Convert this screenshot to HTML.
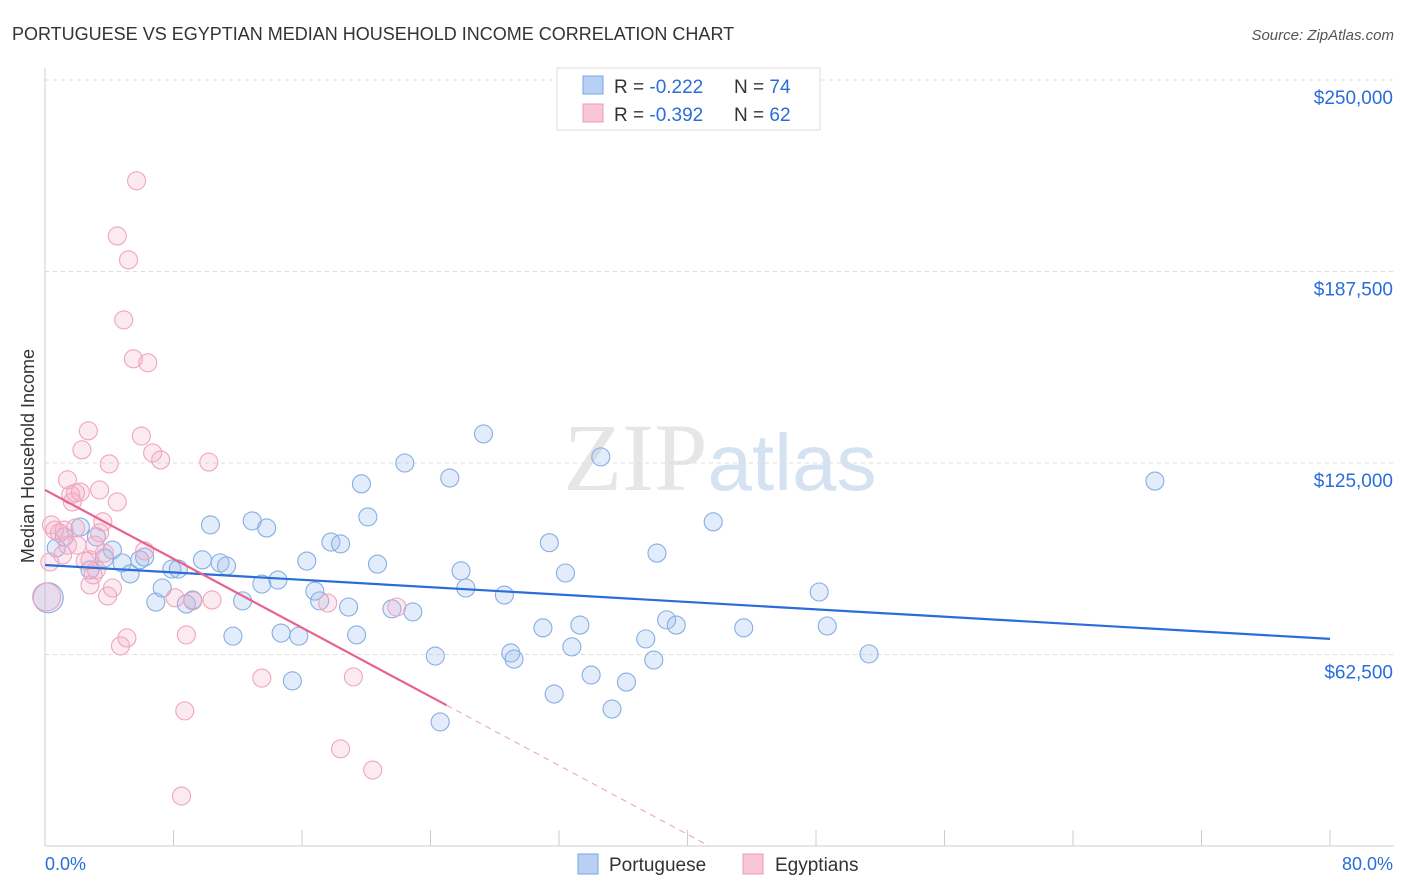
<!DOCTYPE html>
<html><head><meta charset="utf-8"><style>
body{margin:0;background:#fff;font-family:"Liberation Sans",sans-serif;}
svg{display:block}
</style></head><body>
<svg id="chart" width="1406" height="892" xmlns="http://www.w3.org/2000/svg">
<text x="12" y="40" font-size="18" fill="#333">PORTUGUESE VS EGYPTIAN MEDIAN HOUSEHOLD INCOME CORRELATION CHART</text>
<text x="1394" y="40" font-size="15" font-style="italic" fill="#555" text-anchor="end">Source: ZipAtlas.com</text>
<text x="720" y="490" font-size="96" text-anchor="middle" fill="#e6e6e6" font-family="Liberation Serif,serif">ZIP<tspan fill="#d5e2f2" font-family="Liberation Sans,sans-serif" font-size="80">atlas</tspan></text>
<text transform="translate(34,456) rotate(-90)" font-size="18" fill="#333" text-anchor="middle">Median Household Income</text>
<g id="grid"></g><g id="axes"></g><g id="marks"></g><g id="lines"></g>
<g>
<rect x="557" y="68" width="263" height="62" fill="#fff" stroke="#ddd"/>
<rect x="583" y="76" width="20" height="18" fill="#b8d0f3" stroke="#7aa6e0"/>
<text x="614" y="93" font-size="19" fill="#333">R = <tspan fill="#2a6dd9">-0.222</tspan></text>
<text x="734" y="93" font-size="19" fill="#333">N = <tspan fill="#2a6dd9">74</tspan></text>
<rect x="583" y="104" width="20" height="18" fill="#f8c6d6" stroke="#ee9ab5"/>
<text x="614" y="121" font-size="19" fill="#333">R = <tspan fill="#2a6dd9">-0.392</tspan></text>
<text x="734" y="121" font-size="19" fill="#333">N = <tspan fill="#2a6dd9">62</tspan></text>
</g>
<g>
<rect x="578" y="854" width="20" height="20" fill="#b8d0f3" stroke="#7aa6e0"/>
<text x="609" y="871" font-size="19" fill="#333">Portuguese</text>
<rect x="743" y="854" width="20" height="20" fill="#f8c6d6" stroke="#ee9ab5"/>
<text x="775" y="871" font-size="19" fill="#333">Egyptians</text>
</g>
<text x="45" y="870" font-size="18" fill="#2a6dd9">0.0%</text>
<text x="1393" y="870" font-size="18" fill="#2a6dd9" text-anchor="end">80.0%</text>
</svg>
<script>
const yTicks=[62500,125000,187500,250000];
const yTickLabels=["$62,500","$125,000","$187,500","$250,000"];
const xTicks=[0,8,16,24,32,40,48,56,64,72,80];
const portX=[0.2,0.7,1.2,2.2,3.2,4.2,2.8,3.7,4.8,5.3,5.9,6.2,6.9,7.3,7.9,8.3,8.8,9.2,9.8,10.3,10.9,11.3,11.7,12.3,12.9,13.5,13.8,14.5,14.7,15.4,15.8,16.3,16.8,17.1,17.8,18.4,18.9,19.4,19.7,20.1,20.7,21.6,22.4,22.9,24.3,24.6,25.2,25.9,26.2,27.3,28.6,29.0,29.2,31.0,31.4,31.7,32.4,32.8,33.3,34.0,34.6,35.3,36.2,37.4,37.9,38.1,38.7,39.3,41.6,43.5,48.2,48.7,51.3,69.1];
const portY=[81.0,97.3,100.9,104.1,100.9,96.6,90.1,94.0,92.4,88.8,93.4,94.3,79.6,84.2,90.4,90.4,79.0,80.3,93.4,104.8,92.4,91.4,68.5,80.0,106.1,85.5,103.8,86.8,69.5,53.9,68.5,93.0,83.2,80.0,99.2,98.6,78.0,68.9,118.2,107.4,92.0,77.4,125.0,76.4,62.0,40.5,120.1,89.8,84.2,134.5,81.9,63.0,61.0,71.2,99.0,49.6,89.1,65.0,72.1,55.8,127.0,44.7,53.5,67.6,60.7,95.6,73.8,72.1,105.8,71.2,82.9,71.8,62.7,119.1];
const egX=[0.1,0.3,0.4,0.6,0.9,1.1,1.2,1.4,1.6,1.7,1.9,2.0,2.2,2.3,2.5,2.7,2.8,3.0,3.2,3.4,3.6,3.7,3.9,4.0,4.2,4.5,4.5,4.7,4.9,5.1,5.2,5.5,5.7,6.0,6.2,6.4,6.7,7.2,8.1,8.5,8.7,8.8,9.2,10.2,10.4,13.5,17.6,18.4,19.2,20.4,21.9,3.4,1.9,1.4,2.8,3.1];
const egY=[81.3,92.7,104.8,103.1,102.2,95.0,103.1,119.5,114.6,112.3,115.2,98.2,115.5,129.3,93.0,135.5,85.2,88.5,90.1,116.2,105.8,95.6,81.6,124.7,84.2,112.3,199.1,65.3,171.7,67.9,191.3,159.0,217.1,133.8,96.3,157.7,128.3,126.0,81.0,16.3,44.1,68.9,80.0,125.3,80.3,54.8,79.3,31.7,55.2,24.8,78.0,102.2,103.8,98.2,93.4,98.2];
const portTrend=[91.7,67.6];
const egTrend=[116.2,-2.81];
const NS='http://www.w3.org/2000/svg';
const X=v=>45+v*(1285/80);
const Y=v=>846-v*(191.5/62500);
const Yk=v=>Y(v*1000);
function mk(t,a,p){const e=document.createElementNS(NS,t);for(const k in a)e.setAttribute(k,a[k]);p.appendChild(e);return e;}
const grid=document.getElementById('grid'),axes=document.getElementById('axes'),marks=document.getElementById('marks'),lines=document.getElementById('lines');
yTicks.forEach((t,i)=>{
 const l=mk('line',{x1:45,x2:1394,y1:Y(t),y2:Y(t),stroke:'#ddd','stroke-dasharray':'4,4'},grid);
 
 
 const tx=mk('text',{x:1393,y:Y(t)+24,'font-size':19,fill:'#2a6dd9','text-anchor':'end'},axes);
 tx.textContent=yTickLabels[i];
 
 
});
const ax=mk('line',{x1:45,x2:1394,y1:846,y2:846,stroke:'#ccc'},axes);


const ay=mk('line',{x1:45,x2:45,y1:68,y2:846,stroke:'#ccc'},axes);


xTicks.forEach(t=>{
 const l=mk('line',{x1:X(t),x2:X(t),y1:830,y2:846,stroke:'#ccc'},axes);
 
 
});
portX.forEach((x,i)=>{
 const c=mk('circle',{cx:X(x),cy:Yk(portY[i]),r:i==0?15:9,fill:'rgba(160,192,238,0.3)',stroke:'#86aee3','stroke-width':1.1},marks);
 
 
});
egX.forEach((x,i)=>{
 const c=mk('circle',{cx:X(x),cy:Yk(egY[i]),r:i==0?14:9,fill:'rgba(245,170,198,0.25)',stroke:'#f0a5be','stroke-width':1.1},marks);
 
 
});
const bl=mk('line',{x1:X(0),y1:Yk(portTrend[0]),x2:X(80),y2:Yk(portTrend[1]),stroke:'#2a6dd9','stroke-width':2.2},lines);


const eg=x=>egTrend[0]+egTrend[1]*x;
const x0=-egTrend[0]/egTrend[1];
const pl=mk('line',{x1:X(0),y1:Yk(eg(0)),x2:X(25),y2:Yk(eg(25)),stroke:'#e8628e','stroke-width':2.2},lines);


const pd=mk('line',{x1:X(25),y1:Yk(eg(25)),x2:X(x0),y2:Yk(0),stroke:'#e8a0b8','stroke-width':1,'stroke-dasharray':'6,5'},lines);


</script>
</body></html>
